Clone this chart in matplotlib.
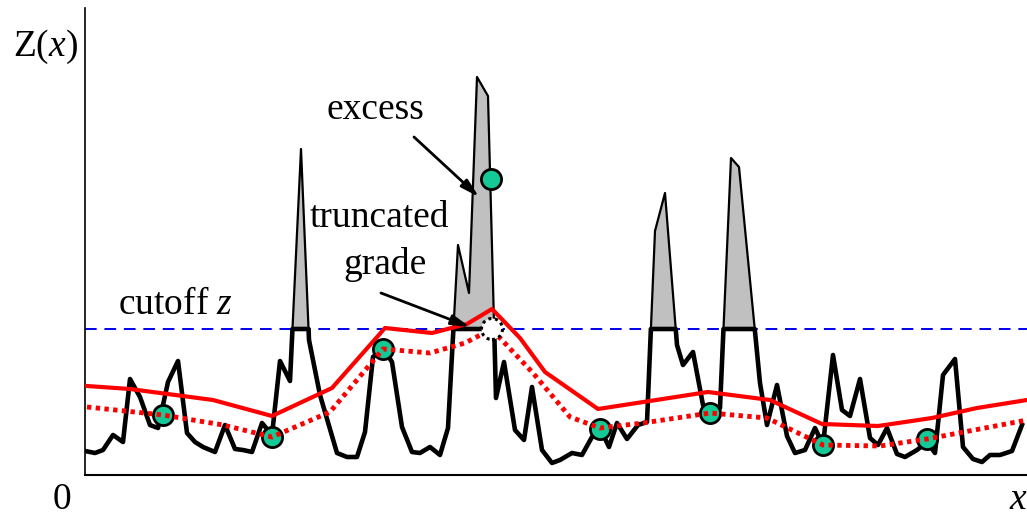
import numpy as np
import matplotlib
matplotlib.use("Agg")
import matplotlib.pyplot as plt
from matplotlib.patches import Circle

plt.rcParams['font.family'] = ['Liberation Serif', 'DejaVu Serif']
plt.rcParams['mathtext.fontset'] = 'custom'
plt.rcParams['mathtext.rm'] = 'Liberation Serif'
plt.rcParams['mathtext.it'] = 'Liberation Serif:italic'

# =========================
# DATA
# =========================
x_grade = [0, 10, 18, 28, 38, 45, 55, 65, 73, 83, 93, 102, 110, 118, 130, 140, 150, 158,
           167, 177, 187, 195, 205, 216, 224, 235, 252, 262, 272, 280, 288, 298, 307, 317,
           327, 335, 345, 355, 363, 373, 384, 392, 403, 411, 419, 430, 439, 447, 457, 467,
           475, 487, 497, 507, 515, 524, 532, 542, 553, 562, 570, 580, 592, 598, 608, 618,
           625, 635, 646, 654, 675, 682, 692, 702, 710, 720, 730, 738, 748, 757, 765, 775,
           785, 793, 802, 812, 820, 832, 842, 850, 858, 870, 878, 888, 897, 905, 915, 927, 937]
z_grade = [24, 22, 25, 40, 33, 96, 78, 50, 47, 93, 114, 42, 33, 28, 23, 50, 26, 25,
           23, 52, 40, 114, 94, 326, 135, 80, 22, 18, 18, 43, 118, 127, 113, 48,
           23, 22, 28, 20, 47, 230, 182, 398, 379, 77, 113, 45, 35, 88, 25, 12,
           15, 22, 20, 38, 47, 28, 52, 36, 50, 53, 244, 282, 130, 110, 123, 70,
           62, 67, 317, 308, 92, 50, 90, 39, 22, 25, 47, 30, 120, 65, 59, 96,
           37, 30, 47, 21, 18, 25, 33, 22, 100, 116, 28, 16, 13, 20, 20, 24, 50]

cutoff = 146

x_est = [2, 45, 128, 187, 247, 300, 347, 382, 407, 435, 460, 513, 623, 685, 737, 793, 847, 892, 942]
z_est = [89, 86, 75, 59, 87, 147, 142, 151, 166, 137, 103, 66, 83, 75, 51, 49, 57, 67, 75]

x_trunc = [2, 78, 138, 187, 245, 298, 345, 380, 405, 415, 448, 485, 515, 558, 625, 682, 738, 795, 842, 942]
z_trunc = [68, 60, 50, 38, 63, 126, 122, 132, 145, 137, 102, 58, 47, 52, 62, 57, 30, 29, 36, 55]

x_samples = [78, 187, 298, 515, 625, 738, 842, 406]
z_samples = [60, 38, 126, 46, 62, 30, 36, 296]

x_truncated_pt = 407

# =========================
# insert cutoff crossings so the truncated line stays flat
# =========================
xs, zs = [x_grade[0]], [z_grade[0]]
for i in range(1, len(x_grade)):
    x0, z0, x1, z1 = x_grade[i - 1], z_grade[i - 1], x_grade[i], z_grade[i]
    if (z0 - cutoff) * (z1 - cutoff) < 0:
        xs.append(x0 + (cutoff - z0) * (x1 - x0) / (z1 - z0))
        zs.append(cutoff)
    xs.append(x1)
    zs.append(z1)
xs = np.array(xs)
zs = np.array(zs)

# =========================
# PLOT
# =========================
fig = plt.figure(figsize=(10.27, 5.16), dpi=100)
ax = fig.add_axes([85 / 1027, 41 / 516, 942 / 1027, 467 / 516])
ax.set_xlim(0, 942)
ax.set_ylim(0, 467)

ax.axhline(cutoff, color='#0000ee', lw=1.4, ls=(0, (6, 4)), zorder=1)
ax.fill_between(xs, zs, cutoff, where=zs >= cutoff, color='#c0c0c0', lw=0, zorder=2)
ax.plot(xs, zs, color='black', lw=1.6, zorder=3)
ax.plot(xs, np.minimum(zs, cutoff), color='black', lw=3.3, zorder=4)

ax.plot(x_est, z_est, color='red', lw=3, zorder=5)
ax.plot(x_samples, z_samples, 'o', ms=14.5, mfc='#14c995', mec='black', mew=2, zorder=6)
ax.plot(x_trunc, z_trunc, color='red', lw=3.5, ls=(0, (0.9, 0.9)), zorder=7)
ax.add_patch(Circle((x_truncated_pt, cutoff), 10.5, facecolor='white', edgecolor='black',
                    lw=2.2, ls=(0, (1, 1.2)), zorder=8))

arrow = dict(arrowstyle='-|>,head_length=1.1,head_width=0.3', color='black', lw=2,
             shrinkA=0, shrinkB=0)
ax.annotate('', xy=(394, 278), xytext=(329, 338), arrowprops=arrow, zorder=10)
ax.annotate('', xy=(385, 148), xytext=(296, 182), arrowprops=arrow, zorder=10)

fs = 27
ax.text(290, 365, 'excess', fontsize=fs, ha='center', va='center')
ax.text(294, 257, 'truncated', fontsize=fs, ha='center', va='center')
ax.text(300, 210, 'grade', fontsize=fs, ha='center', va='center')
ax.text(91, 170, 'cutoff $z$', fontsize=fs, ha='center', va='center')

fig.text(45 / 1027, 1 - 47 / 516, 'Z($x$)', fontsize=fs, ha='center', va='center')
fig.text(62 / 1027, 1 - 500 / 516, '0', fontsize=fs, ha='center', va='center')
fig.text(1018 / 1027, 1 - 500 / 516, '$x$', fontsize=fs, ha='center', va='center')

for s in ['top', 'right']:
    ax.spines[s].set_visible(False)
ax.spines['left'].set_linewidth(1.2)
ax.spines['bottom'].set_linewidth(1.5)
ax.set_xticks([])
ax.set_yticks([])

fig.savefig('out.png', dpi=100)
